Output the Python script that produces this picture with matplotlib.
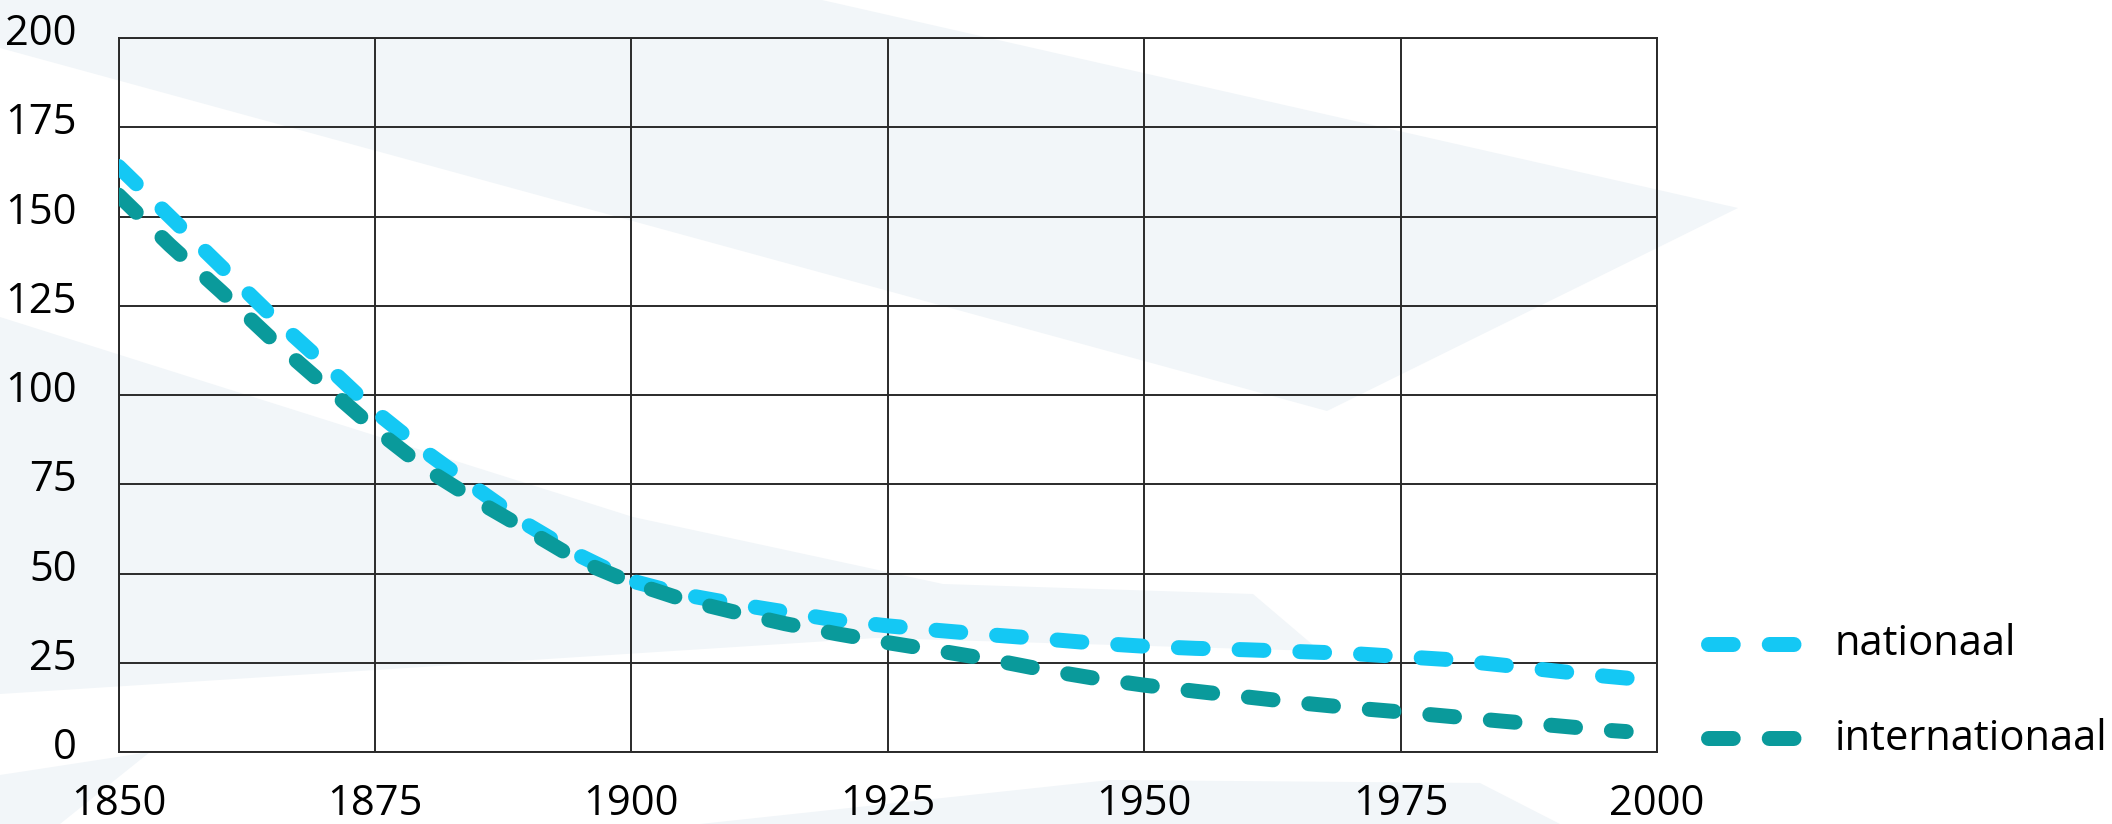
import numpy as np
import matplotlib.pyplot as plt
from matplotlib.patches import Polygon
from matplotlib.transforms import ScaledTranslation

plt.rcParams['font.family'] = ['Open Sans', 'DejaVu Sans']

# data
years = [1850, 1855, 1860, 1865, 1870, 1875, 1880, 1885, 1890, 1895, 1900,
         1905, 1910, 1915, 1920, 1925, 1930, 1935, 1940, 1945, 1950,
         1955, 1960, 1965, 1970, 1975, 1980, 1985, 1990, 1995, 2000]
nationaal = [164, 150, 136, 122, 109, 95.5, 84, 73.6, 63.5, 55, 48,
             44.2, 41.6, 39.3, 37, 35.4, 34.1, 32.9, 31.8, 30.6, 29.7,
             29.1, 28.7, 28.2, 27.7, 26.8, 25.9, 24.4, 22.8, 21.3, 20]
years_int = years[:-1] + [1997]
internationaal = [156, 142, 129, 115.5, 103, 90.5, 79.3, 70.3, 62, 53.5, 47.5,
                  42.8, 39.3, 36, 33.2, 30.7, 28.4, 26, 23.2, 20.8, 18.8,
                  17.1, 15.5, 13.9, 12.5, 11.3, 10, 8.7, 7.5, 6.2, 5.8]
x_ticks = [1850, 1875, 1900, 1925, 1950, 1975, 2000]
y_ticks = [0, 25, 50, 75, 100, 125, 150, 175, 200]
labels = ["nationaal", "internationaal"]

# faint watermark shapes in the background (pixel coords, y from top)
shade_shapes = [
    [(0, 0), (822, 0), (1738, 208), (1327, 411), (0, 48)],
    [(0, 317), (633, 517), (943, 584), (1253, 594), (1320, 651), (876, 638), (0, 694)],
    [(0, 824), (0, 775), (150, 752), (60, 824)],
    [(700, 824), (1110, 780), (1480, 783), (1560, 824)],
]

W, H = 2112, 824
fig = plt.figure(figsize=(W / 100, H / 100), dpi=100)
for shp in shade_shapes:
    pts = [(px / W, 1 - py / H) for px, py in shp]
    fig.patches.append(Polygon(pts, closed=True, transform=fig.transFigure,
                               facecolor='#f2f6f9', edgecolor='none', zorder=-5))

ax = fig.add_axes([118.5 / W, 1 - 752.3 / H, (1657 - 118.5) / W, (752.3 - 37.9) / H])
ax.set_facecolor('none')
ax.set_zorder(1)

dash = (0, (1.65, 2.4))
ax.plot(years, nationaal, color='#14c8f4', lw=10.8, ls=dash,
        dash_capstyle='round', label=labels[0], zorder=3)
ax.plot(years_int, internationaal, color='#0a9a9b', lw=10.8, ls=dash,
        dash_capstyle='round', label=labels[1], zorder=3)

ax.set_xlim(1850, 2000)
ax.set_ylim(0, 200)
ax.set_xticks(x_ticks)
ax.set_yticks(y_ticks)
ax.grid(True, color='#2a2a2a', lw=1.4)
ax.set_axisbelow(True)
for sp in ax.spines.values():
    sp.set_color('#2a2a2a')
    sp.set_linewidth(1.4)
ax.tick_params(length=0, labelsize=30, colors='black')
ax.tick_params(axis='y', pad=30)
ax.tick_params(axis='x', pad=22)
shift = ScaledTranslation(0, 9 / 100, fig.dpi_scale_trans)
for lab in ax.get_yticklabels():
    lab.set_transform(lab.get_transform() + shift)

ax.legend(loc='upper left', bbox_to_anchor=(1707.5 / W, 1 - 623 / H),
          bbox_transform=fig.transFigure, frameon=False, fontsize=30,
          handlelength=2.11, handletextpad=0.95, labelspacing=1.27,
          borderpad=0, borderaxespad=0, handleheight=0.2)

fig.savefig('out.png', dpi=100)
